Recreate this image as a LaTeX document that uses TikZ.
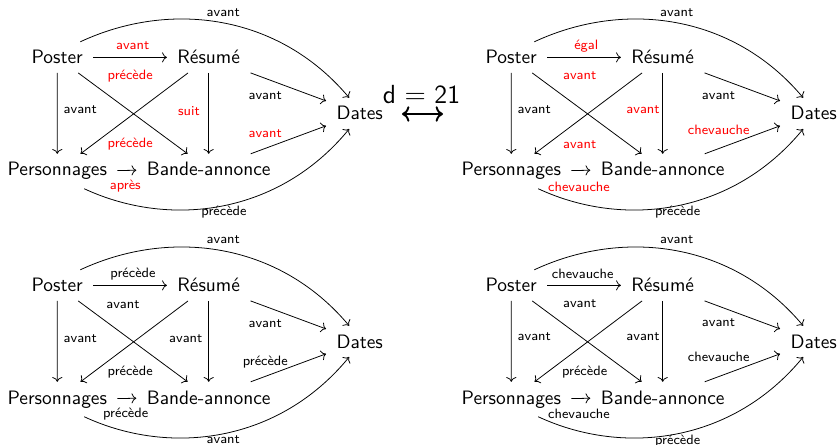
\documentclass[tikz,border=0pt]{standalone}
\usepackage{fontspec}
\usetikzlibrary{arrows.meta}
\tikzset{
  nd/.style={font=\sffamily\fontsize{10}{12}\selectfont, inner xsep=5.2pt, inner ysep=4.3pt, anchor=base},
  lb/.style={font=\sffamily\fontsize{7}{8}\selectfont, inner sep=0pt},
  rl/.style={lb, text=red},
  ar/.style={-{Computer Modern Rightarrow}, line width=0.4pt},
  dd/.style={{Computer Modern Rightarrow}-{Computer Modern Rightarrow}, line width=1pt},
}
\newcommand{\skel}{%
  \node[nd] (P) at (57.2,64) {Poster};
  \node[nd] (R) at (208.7,64) {Résumé};
  \node[nd] (Pe) at (57.3,176) {Personnages};
  \node[nd] (B) at (208.7,176) {Bande-annonce};
  \node[nd] (D) at (359.7,120) {Dates};
  \draw[ar] (P) -- (R);
  \draw[ar] (P) -- (Pe);
  \draw[ar] (P) -- (B);
  \draw[ar] (R) -- (Pe);
  \draw[ar] (R) -- (B);
  \draw[ar] (R) -- (D);
  \draw[ar] (B) -- (D);
  \draw[ar] (Pe) -- (B);
  \draw[ar] (P.34) .. controls (170,0) and (279,14) .. (D.124);
  \draw[ar] (Pe.-33) .. controls (170,228.6) and (279,214.6) .. (D.-124);
}
\begin{document}
\begin{tikzpicture}[x=0.5155pt, y=-0.5155pt]
\useasboundingbox (0,0) rectangle (839,445);

% top left
\begin{scope}[name prefix=a-]
  \skel
  \node[rl] (l1) at (132.7,46) {avant};
  \node[lb, anchor=west] (l2) at (63.3,110) {avant};
  \node[rl, anchor=west] (l3) at (107.3,76) {précède};
  \node[rl, anchor=west] (l4) at (107.3,144) {précède};
  \node[rl] (l5) at (189,111) {suit};
  \node[lb] (l6) at (265.2,96) {avant};
  \node[rl] (l7) at (265.2,133.3) {avant};
  \node[lb] (l8) at (223.3,12.3) {avant};
  \node[lb] (l9) at (224,212) {précède};
  \node[rl] (l10) at (125.3,186) {après};
\end{scope}

% top right
\begin{scope}[shift={(454,0)}, name prefix=b-]
  \skel
  \node[rl] (l1) at (132.3,46) {égal};
  \node[lb, anchor=west] (l2) at (63.3,110) {avant};
  \node[rl, anchor=west] (l3) at (108.7,76) {avant};
  \node[rl, anchor=west] (l4) at (108.7,145) {avant};
  \node[rl] (l5) at (189,110) {avant};
  \node[lb] (l6) at (264.5,95.7) {avant};
  \node[rl] (l7) at (264.7,130) {chevauche};
  \node[lb] (l8) at (222.7,12.3) {avant};
  \node[lb] (l9) at (223.7,212) {précède};
  \node[rl] (l10) at (125,186.7) {chevauche};
\end{scope}

% bottom left
\begin{scope}[shift={(0,228)}, name prefix=c-]
  \skel
  \node[lb] (l1) at (133,46.3) {précède};
  \node[lb, anchor=west] (l2) at (63.3,110.3) {avant};
  \node[lb, anchor=west] (l3) at (106,76.3) {avant};
  \node[lb, anchor=west] (l4) at (107.3,143.7) {précède};
  \node[lb] (l5) at (185.8,110.3) {avant};
  \node[lb] (l6) at (265.2,95.3) {avant};
  \node[lb] (l7) at (265.3,133.7) {précède};
  \node[lb] (l8) at (223.3,12) {avant};
  \node[lb] (l9) at (223.3,212) {avant};
  \node[lb] (l10) at (125.7,186) {précède};
\end{scope}

% bottom right
\begin{scope}[shift={(454,228)}, name prefix=d-]
  \skel
  \node[lb] (l1) at (128.7,46.3) {chevauche};
  \node[lb, anchor=west] (l2) at (63.3,108.7) {avant};
  \node[lb, anchor=west] (l3) at (108.7,76) {avant};
  \node[lb, anchor=west] (l4) at (107.7,143.7) {précède};
  \node[lb] (l5) at (189,108.7) {avant};
  \node[lb] (l6) at (264.5,94.3) {avant};
  \node[lb] (l7) at (264.7,129.3) {chevauche};
  \node[lb] (l8) at (222.7,12) {avant};
  \node[lb] (l9) at (223.7,213.3) {précède};
  \node[lb] (l10) at (125,186.3) {chevauche};
\end{scope}

% distance between the two top diagrams
\node[font=\sffamily\fontsize{13.5}{16}\selectfont, inner sep=0pt, anchor=base] (dist) at (421.5,103.3) {d $=$ 21};
\coordinate (dl) at (402,114);
\coordinate (dr) at (443,114);
\draw[dd] (dl) -- (dr);
\end{tikzpicture}
\end{document}
